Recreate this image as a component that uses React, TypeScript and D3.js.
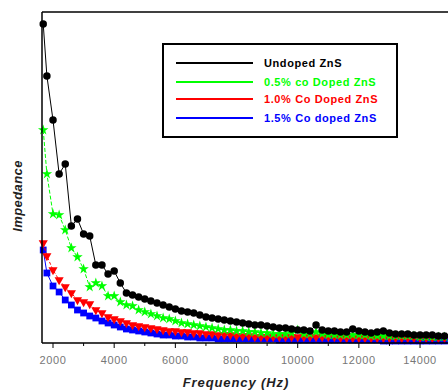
import React from "react";
import * as d3 from "d3";

// Frequency (Hz) of each measured point
const freqs = [
  1680, 1800, 2000, 2200, 2400, 2600, 2800, 3000, 3200, 3400, 3600, 3800, 4000,
  4200, 4400, 4600, 4800, 5000, 5200, 5400, 5600, 5800, 6000, 6200, 6400, 6600,
  6800, 7000, 7200, 7400, 7600, 7800, 8000, 8200, 8400, 8600, 8800, 9000, 9200,
  9400, 9600, 9800, 10000, 10200, 10400, 10600, 10800, 11000, 11200, 11400,
  11600, 11800, 12000, 12200, 12400, 12600, 12800, 13000, 13200, 13400, 13600,
  13800, 14000, 14200, 14400, 14600, 14800,
];

// Impedance (arbitrary units)
const undoped = [
  319, 267, 223, 169, 179, 117, 124, 109, 107, 78, 78, 69, 72,
  60, 50, 48, 46, 44, 42, 40, 38, 36, 34, 32, 31, 30,
  28, 26, 25, 24, 23, 22, 21, 20, 19, 18, 18, 17, 16,
  15, 15, 14, 13, 13, 12, 18, 13, 12, 12, 11,
  11, 14, 12, 11, 10, 11, 12, 10, 9, 9, 9,
  8, 8, 8, 8, 7, 7,
];
const co05 = [
  213, 169, 129, 128, 113, 95, 86, 74, 56, 60, 57, 47, 47,
  41, 38, 37, 33, 31, 29, 27, 25, 24, 22, 20, 19, 18,
  17, 16, 15, 14, 13, 13, 12, 12, 11, 11, 10, 10, 9,
  9, 9, 10, 13, 9, 9, 11, 9, 8, 8, 8,
  8, 8, 8, 8, 7, 7, 7, 7, 7, 7, 7,
  7, 6, 6, 6, 6, 6,
];
const co10 = [
  100, 87, 73, 63, 56, 50, 43, 41, 39, 33, 30, 26, 24,
  22, 20, 18, 17, 16, 15, 14, 13, 12, 12, 11, 11, 10,
  10, 9, 9, 8, 8, 8, 7, 7, 7, 6, 6, 6, 6,
  6, 6, 6, 6, 6, 6, 6, 6, 6, 6, 5,
  5, 5, 5, 5, 5, 5, 5, 5, 5, 5, 5,
  5, 5, 5, 5, 5, 5,
];
const co15 = [
  93, 70, 57, 51, 43, 38, 33, 30, 27, 25, 22, 20, 18,
  16, 14, 13, 12, 11, 10, 9, 8, 8, 7, 7, 6, 6,
  5, 5, 5, 4, 4, 4, 4, 4, 4, 4, 4, 4, 4,
  3, 3, 3, 3, 3, 3, 3, 3, 3, 3, 3,
  3, 3, 3, 3, 3, 3, 2, 2, 2, 2, 2,
  2, 2, 2, 2, 2, 2,
];

const seriesNames = [
  "Undoped ZnS",
  "0.5% co Doped ZnS",
  "1.0% Co Doped ZnS",
  "1.5% Co doped ZnS",
];
const seriesColors = ["#000000", "#00ff00", "#ff0000", "#0000ff"];
const seriesValues = [undoped, co05, co10, co15];

const xTicksMajor = [2000, 4000, 6000, 8000, 10000, 12000, 14000];
const xTicksMinor = [3000, 5000, 7000, 9000, 11000, 13000];

const W = 448;
const H = 390;
const left = 42;
const top = 12;
const bottom = 343;

export default function App() {
  const x = d3.scaleLinear().domain([1640, 14914]).range([left, W]);
  const y = d3.scaleLinear().domain([0, 331]).range([bottom, top]);

  const line = d3
    .line<number>()
    .x((_, i) => x(freqs[i]))
    .y((v) => y(v));

  const symbols = [
    d3.symbol().type(d3.symbolCircle).size(44)(),
    d3.symbol().type(d3.symbolStar).size(34)(),
    d3.symbol().type(d3.symbolTriangle).size(36)(),
    d3.symbol().type(d3.symbolSquare).size(46)(),
  ];
  const symRotate = [0, 0, 180, 0];
  const dashes = ["none", "4,2", "3,2", "none"];
  const order = [3, 2, 1, 0];

  return (
    <svg
      width={W}
      height={H}
      style={{ position: "absolute", left: 0, top: 0, background: "#fff" }}
    >
      {order.map((s) => (
        <g key={s}>
          <path
            d={line(seriesValues[s]) || ""}
            fill="none"
            stroke={seriesColors[s]}
            strokeWidth={1}
            strokeDasharray={dashes[s]}
          />
          {seriesValues[s].map((v, i) => (
            <path
              key={i}
              d={symbols[s] || ""}
              transform={`translate(${x(freqs[i])},${y(v)}) rotate(${symRotate[s]})`}
              fill={seriesColors[s]}
            />
          ))}
        </g>
      ))}

      {/* axes frame */}
      <line x1={left} x2={W} y1={top} y2={top} stroke="#000" strokeWidth={1.5} />
      <line x1={left} x2={left} y1={top} y2={bottom} stroke="#000" strokeWidth={1.5} />
      <line x1={left} x2={W} y1={bottom} y2={bottom} stroke="#000" strokeWidth={1.5} />

      {xTicksMajor.map((t) => (
        <g key={t}>
          <line x1={x(t)} x2={x(t)} y1={bottom} y2={bottom + 5} stroke="#000" strokeWidth={1} />
          <text
            x={x(t)}
            y={364}
            textAnchor="middle"
            fontFamily="Arial, 'Liberation Sans', sans-serif"
            fontSize={11}
            letterSpacing={0.6}
            fill="#777"
          >
            {t}
          </text>
        </g>
      ))}
      {xTicksMinor.map((t) => (
        <line key={t} x1={x(t)} x2={x(t)} y1={bottom} y2={bottom + 3} stroke="#000" strokeWidth={1} />
      ))}

      <text
        x={236}
        y={387}
        textAnchor="middle"
        fontFamily="Arial, 'Liberation Sans', sans-serif"
        fontSize={13}
        fontWeight="bold"
        fontStyle="italic"
        letterSpacing={0.9}
        fill="#222"
      >
        Frequency (Hz)
      </text>
      <text
        transform="translate(22,196) rotate(-90)"
        textAnchor="middle"
        fontFamily="Arial, 'Liberation Sans', sans-serif"
        fontSize={13}
        fontWeight="bold"
        fontStyle="italic"
        letterSpacing={0.4}
        fill="#222"
      >
        Impedance
      </text>

      {/* legend */}
      <rect x={163} y={44} width={234} height={93} fill="#fff" stroke="#000" strokeWidth={2} />
      {seriesNames.map((n, i) => {
        const ly = [63, 82, 99, 118][i];
        return (
          <g key={n}>
            <line x1={176} x2={253} y1={ly} y2={ly} stroke={seriesColors[i]} strokeWidth={2} />
            <text
              x={264}
              y={ly + 4}
              fontFamily="Arial, 'Liberation Sans', sans-serif"
              fontSize={11}
              fontWeight="bold"
              letterSpacing={0.6}
              fill={seriesColors[i]}
            >
              {n}
            </text>
          </g>
        );
      })}
    </svg>
  );
}
